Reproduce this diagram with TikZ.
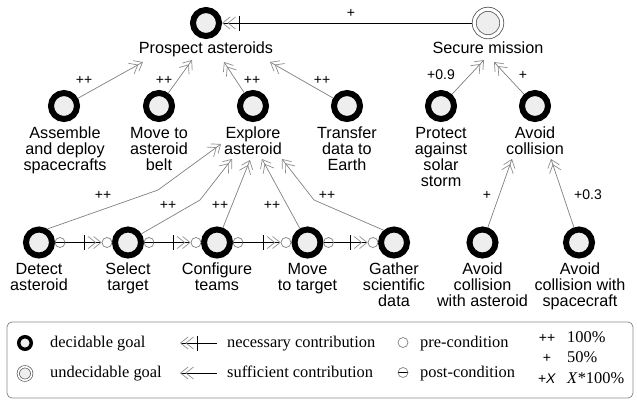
\documentclass[tikz,border=0pt]{standalone}
\usepackage{fontspec}
\setmainfont{Liberation Sans}
\newfontfamily\legendfont{Liberation Serif}
\usetikzlibrary{arrows.meta}

\definecolor{goalfill}{HTML}{EEEEEE}
\definecolor{wire}{HTML}{808080}
\definecolor{tipgray}{HTML}{8C8C8C}
\definecolor{boxgray}{HTML}{8A8A8A}

\begin{document}
\begin{tikzpicture}[x=1pt,y=-1pt,
  decgoal/.style={circle, draw=black, line width=6pt, fill=goalfill,
    minimum size=26pt, inner sep=0pt},
  undecgoal/.style={circle, draw=black!65, line width=0.8pt, double=white,
    double distance=3.2pt, fill=goalfill, minimum size=27.5pt, inner sep=0pt,
    outer sep=2.4pt},
  precond/.style={circle, draw=wire, line width=0.7pt, fill=white,
    minimum size=10pt, inner sep=0pt},
  postcond/.style={precond, path picture={\draw[black, line width=1pt]
    (path picture bounding box.west) -- (path picture bounding box.east);}},
  glabel/.style={font=\fontsize{16.2}{16}\selectfont, align=center,
    inner sep=0pt, anchor=north},
  clabel/.style={font=\fontsize{14}{14}\selectfont, inner sep=0pt},
  legtext/.style={font=\legendfont\fontsize{16.4}{16}\selectfont,
    inner sep=0pt, anchor=base west},
  suff/.style={draw=wire, line width=0.7pt,
    -{Straight Barb[length=7.5pt,width=12pt,line width=0.7pt,color=tipgray,sep=-3pt]
      Straight Barb[length=7.5pt,width=12pt,line width=0.7pt,color=tipgray]}},
  necess/.style={draw=black, line width=1pt,
    -{Bar[width=15pt,line width=1pt,sep=3pt]
      Straight Barb[length=7.5pt,width=12pt,line width=0.7pt,color=tipgray,sep=-3pt]
      Straight Barb[length=7.5pt,width=12pt,line width=0.7pt,color=tipgray]}},
]
\useasboundingbox (0,0) rectangle (637,400);

% ---------- goals ----------
\node[decgoal]   (prospect) at (206,23) {};
\node[undecgoal] (secure)   at (488,23) {};
\node[decgoal] (assemble) at (64,106) {};
\node[decgoal] (belt)     at (159,106) {};
\node[decgoal] (explore)  at (253,106) {};
\node[decgoal] (transfer) at (347,106) {};
\node[decgoal] (protect)  at (441,106) {};
\node[decgoal] (avoid)    at (535,106) {};
\node[decgoal] (detect)    at (39,242.5) {};
\node[decgoal] (select)    at (128,242.5) {};
\node[decgoal] (configure) at (217,242.5) {};
\node[decgoal] (movet)     at (307.5,242.5) {};
\node[decgoal] (gather)    at (394,242.5) {};
\node[decgoal] (avoidast)  at (482.5,242.5) {};
\node[decgoal] (avoidsc)   at (579,242.5) {};

% ---------- goal labels ----------
\node[glabel] (l-prospect) at (206,42) {Prospect asteroids};
\node[glabel] (l-secure)   at (488,42) {Secure mission};
\node[glabel] (l-assemble) at (65,127) {Assemble\\and deploy\\spacecrafts};
\node[glabel] (l-belt)     at (159,127) {Move to\\asteroid\\belt};
\node[glabel] (l-explore)  at (253,127) {Explore\\asteroid};
\node[glabel] (l-transfer) at (347,127) {Transfer\\data to\\Earth};
\node[glabel] (l-protect)  at (441,127) {Protect\\against\\solar\\storm};
\node[glabel] (l-avoid)    at (535,127) {Avoid\\collision};
\node[glabel] (l-detect)    at (39,263) {Detect\\asteroid};
\node[glabel] (l-select)    at (128,263) {Select\\target};
\node[glabel] (l-configure) at (217,263) {Configure\\teams};
\node[glabel] (l-movet)     at (307.5,263) {Move\\to target};
\node[glabel] (l-gather)    at (394,263) {Gather\\scientific\\data};
\node[glabel] (l-avoidast)  at (482.5,263) {Avoid\\collision\\with asteroid};
\node[glabel] (l-avoidsc)   at (580,263) {Avoid\\collision with\\spacecraft};

% ---------- pre/post-conditions on the task chain ----------
\node[postcond] (detect-post)    at (60,242.5) {};
\node[precond]  (select-pre)     at (107,242.5) {};
\node[postcond] (select-post)    at (149,242.5) {};
\node[precond]  (configure-pre)  at (196,242.5) {};
\node[postcond] (configure-post) at (238,242.5) {};
\node[precond]  (movet-pre)      at (286,242.5) {};
\node[postcond] (movet-post)     at (328.5,242.5) {};
\node[precond]  (gather-pre)     at (373,242.5) {};

% ---------- arrow end points at the goal labels ----------
\coordinate (pa1) at (143,62);
\coordinate (pa2) at (192,60);
\coordinate (pa3) at (224,62);
\coordinate (pa4) at (270,62);
\coordinate (sm1) at (484,60);
\coordinate (sm2) at (494,62);
\coordinate (ac1) at (512,159);
\coordinate (ac2) at (551,159);
\coordinate (ea1) at (221,144);
\coordinate (ea2) at (232,159);
\coordinate (ea3) at (250,160);
\coordinate (ea4) at (262,159);
\coordinate (ea5) at (282,159);
\coordinate (bd) at (158,190);
\coordinate (bs) at (200,200);
\coordinate (bg) at (314,200);

% ---------- contributions ----------
\draw[necess] (secure) -- (prospect);
\draw[suff] (assemble) -- (pa1);
\draw[suff] (belt) -- (pa2);
\draw[suff] (explore) -- (pa3);
\draw[suff] (transfer) -- (pa4);
\draw[suff] (protect) -- (sm1);
\draw[suff] (avoid) -- (sm2);
\draw[suff] (avoidast) -- (ac1);
\draw[suff] (avoidsc) -- (ac2);
\draw[suff] (detect.58) -- (bd) -- (ea1);
\draw[suff] (select.33) -- (bs) -- (ea2);
\draw[suff] (configure) -- (ea3);
\draw[suff] (movet) -- (ea4);
\draw[suff] (gather.130) -- (bg) -- (ea5);

% ---------- task sequence ----------
\draw[necess] (detect-post) -- (select-pre);
\draw[necess] (select-post) -- (configure-pre);
\draw[necess] (configure-post) -- (movet-pre);
\draw[necess] (movet-post) -- (gather-pre);

% ---------- contribution weights ----------
\node[clabel] (w-top) at (351,13) {+};
\node[clabel] (w-as) at (84,80) {++};
\node[clabel] (w-be) at (164,80) {++};
\node[clabel] (w-ex) at (252,80) {++};
\node[clabel] (w-tr) at (322,80) {++};
\node[clabel] (w-pr) at (441,75) {+0.9};
\node[clabel] (w-av) at (523,75) {+};
\node[clabel] (w-aa) at (487,195) {+};
\node[clabel] (w-asc) at (588,195) {+0.3};
\node[clabel] (w-de) at (103,195) {++};
\node[clabel] (w-se) at (168,205) {++};
\node[clabel] (w-co) at (220,205) {++};
\node[clabel] (w-mo) at (272,205) {++};
\node[clabel] (w-ga) at (327,195) {++};

% ---------- legend ----------
\node[draw=boxgray, line width=0.8pt, rounded corners=5pt, minimum width=626pt,
  minimum height=76pt, inner sep=0pt] (legendbox) at (320,360) {};
\node[decgoal, line width=3.5pt, minimum size=12.5pt] (lg-dec) at (25,343) {};
\node[undecgoal, line width=0.7pt, double distance=1.6pt, minimum size=13.5pt,
  outer sep=1.5pt] (lg-und) at (25,373.5) {};
\node[legtext] (lt-dec) at (50,347) {decidable goal};
\node[legtext] (lt-und) at (50,377) {undecidable goal};

\coordinate (ln1) at (217,343);
\coordinate (ln2) at (180,343);
\coordinate (ls1) at (217,373);
\coordinate (ls2) at (180,373);
\draw[necess] (ln1) -- (ln2);
\draw[suff, draw=black, line width=1pt] (ls1) -- (ls2);
\node[legtext] (lt-nec) at (227,347) {necessary contribution};
\node[legtext] (lt-suf) at (227,377) {sufficient contribution};

\node[precond]  (lg-pre)  at (403,342.5) {};
\node[postcond] (lg-post) at (403,372.5) {};
\node[legtext] (lt-pre)  at (420,347) {pre-condition};
\node[legtext] (lt-post) at (420,377) {post-condition};

\node[clabel, anchor=base] (lw-1) at (547,342) {++};
\node[clabel, anchor=base] (lw-2) at (547,362.5) {+};
\node[clabel, anchor=base] (lw-3) at (547,383) {+\textit{X}};
\node[legtext] (lv-1) at (567,342) {100\%};
\node[legtext] (lv-2) at (567,362.5) {50\%};
\node[legtext] (lv-3) at (567,383) {\textit{X}*100\%};
\end{tikzpicture}
\end{document}
